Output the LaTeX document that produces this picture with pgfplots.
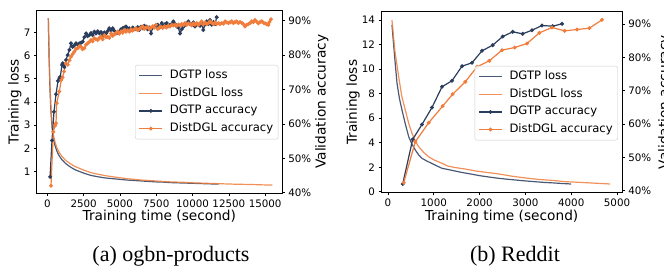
\documentclass[border=0pt]{standalone}
\usepackage{fontspec}
\setmainfont{DejaVu Sans}
\newfontfamily\capfont{Liberation Serif}
\usepackage{pgfplots}
\pgfplotsset{compat=1.18}
\definecolor{dgtp}{RGB}{43,61,92}
\definecolor{ddgl}{RGB}{240,125,60}
\pgfplotsset{
  base/.style={
    scale only axis,
    /pgf/number format/assume math mode=true,
    /pgf/number format/1000 sep={},
    scaled ticks=false,
    tick align=outside,
    major tick length=2.8bp,
    every tick/.style={black, line width=0.6bp},
    ticklabel style={font=\fontsize{10.3bp}{12bp}\selectfont},
    label style={font=\fontsize{13.7bp}{16bp}\selectfont},
    axis line style={line width=0.8bp},
    legend cell align=left,
    legend image code/.code={\draw[mark repeat=2,mark phase=2,##1] plot coordinates {(0bp,0bp) (11.5bp,0bp) (23bp,0bp)};},
  },
  lossd/.style={dgtp, line width=1.2bp, opacity=0.85},
  losso/.style={ddgl, line width=1.2bp, opacity=0.85},
  accd/.style={dgtp, line width=1.2bp, mark=*, mark size=1.3bp},
  acco/.style={ddgl, line width=1.2bp, mark=*, mark size=1.3bp},
  leg/.style={draw=black!20, rounded corners=2bp, fill=white, fill opacity=0.8, text opacity=1,
    font=\fontsize{11.6bp}{13bp}\selectfont, inner xsep=3.5bp, inner ysep=3.3bp, row sep=3.1bp,
    nodes={inner sep=1.5bp, text height=8.8bp, text depth=2.7bp},
    /tikz/every odd column/.append style={column sep=5.5bp}},
}
\begin{document}
\begin{tikzpicture}
\useasboundingbox (0,0) rectangle (664bp,270bp);
% ---------------- left: ogbn-products ----------------
\begin{axis}[base, at={(36.7bp,76.7bp)}, anchor=south west, width=245.3bp, height=183.3bp,
  xmin=-730, xmax=16160, ymin=0.07, ymax=7.96,
  xtick={0,2500,5000,7500,10000,12500,15000},
  ytick={1,2,3,4,5,6,7},
  xtick pos=bottom, ytick pos=left,
  xlabel={Training time (second)}, ylabel={Training loss},
  xlabel style={at={(axis description cs:0.5,0)}, anchor=north, inner sep=0pt, yshift=-16.8bp},
  ylabel style={at={(axis description cs:-0.0611,0.5)}, anchor=south, inner sep=0pt},
]
\addplot[lossd] coordinates {
(70,7.6) (120,6.0) (180,4.6) (250,3.6) (330,2.9) (420,2.45) (520,2.15) (650,1.9) (800,1.7)
(1000,1.52) (1250,1.36) (1500,1.24) (1750,1.14) (2000,1.06) (2500,0.94) (3000,0.84) (3500,0.78)
(4000,0.73) (4500,0.70) (5000,0.67) (5500,0.64) (6000,0.62) (6500,0.60) (7000,0.58) (7500,0.56)
(8000,0.55) (8500,0.53) (9000,0.52) (9500,0.51) (10000,0.50) (10500,0.49) (11000,0.48) (11500,0.47) (11800,0.47)};
\addplot[losso] coordinates {
(70,7.6) (120,6.2) (180,4.8) (250,3.8) (330,3.05) (420,2.6) (520,2.3) (650,2.05) (800,1.85)
(1000,1.66) (1250,1.5) (1500,1.38) (1750,1.28) (2000,1.2) (2500,1.07) (3000,0.96) (3500,0.89)
(4000,0.83) (4500,0.78) (5000,0.74) (5500,0.70) (6000,0.67) (6500,0.64) (7000,0.62) (7500,0.60)
(8000,0.58) (8500,0.56) (9000,0.55) (9500,0.54) (10000,0.52) (11000,0.50) (12000,0.48) (13000,0.46)
(14000,0.45) (15000,0.43) (15500,0.43)};
\end{axis}
\begin{axis}[base, at={(36.7bp,76.7bp)}, anchor=south west, width=245.3bp, height=183.3bp,
  xmin=-730, xmax=16160, ymin=39.83, ymax=93.1,
  axis x line=none, axis y line*=right,
  ytick={40,50,60,70,80,90}, yticklabels={40\%,50\%,60\%,70\%,80\%,90\%},
  ylabel={Validation accuracy},
  ylabel style={at={(axis description cs:1.1345,0.5)}, anchor=north, inner sep=0pt},
  legend style={leg, at={(axis description cs:0.985,0.70)}, anchor=north east},
]
\addlegendimage{lossd}\addlegendentry{DGTP loss}
\addlegendimage{losso}\addlegendentry{DistDGL loss}
\addplot[accd] coordinates {
(190,44.6) (324,55.2) (460,63.5) (599,68.6) (737,72.5) (827,73.3) (895,73.7) (1012,77.1) (1060,77.6)
(1171,76.5) (1288,78.6) (1405,80.0) (1520,81.5) (1632,83.4) (1749,82.4) (1860,82.8) (1977,83.4)
(2090,83.0) (2204,83.4) (2320,83.6) (2438,83.9) (2550,85.2) (2665,86.3) (2780,85.5) (2893,85.8)
(3010,86.4) (3127,85.8) (3240,86.8) (3354,86.3) (3470,86.9) (3581,86.3) (3700,86.7) (3815,85.8)
(3930,86.6) (4043,86.3) (4160,87.0) (4270,87.8) (4390,87.2) (4504,87.8) (4620,87.0) (4731,86.3)
(4850,86.5) (4959,86.8) (5080,87.5) (5193,87.8) (5300,88.0) (5420,88.3) (5530,87.6) (5647,87.8)
(5760,87.2) (5880,88.0) (6000,87.6) (6109,87.5) (6220,88.1) (6340,87.3) (6450,88.2) (6570,87.8)
(6680,88.5) (6797,88.3) (6910,87.5) (7020,88.0) (7141,86.3) (7250,87.9) (7370,88.3) (7490,88.5)
(7603,88.8) (7740,88.0) (7879,89.3) (8000,88.5) (8110,89.0) (8223,89.3) (8340,88.4) (8450,88.8)
(8567,89.0) (8678,89.8) (8790,89.0) (8907,88.3) (9020,88.0) (9139,86.3) (9250,87.5) (9370,88.2)
(9487,88.8) (9600,89.0) (9711,89.8) (9830,89.0) (9940,88.8) (10060,89.5) (10170,88.3) (10290,89.0)
(10400,88.8) (10520,88.5) (10630,89.3) (10740,87.3) (10860,88.9) (10975,89.8) (11090,89.0)
(11200,90.2) (11320,88.8) (11440,89.6) (11550,89.0) (11660,91.0)};
\addlegendentry{DGTP accuracy}
\addplot[acco] coordinates {
(255,42.0) (413,57.7) (530,59.5) (599,60.2) (647,66.0) (826,69.4) (964,72.8) (1050,73.5) (1150,75.2)
(1288,77.6) (1405,77.2) (1520,78.5) (1632,79.5) (1745,80.3) (1860,81.0) (1977,81.8) (2094,82.0)
(2210,82.6) (2321,82.4) (2430,81.7) (2548,82.0) (2660,83.0) (2782,83.4) (2890,83.8) (3010,84.4)
(3120,84.0) (3237,84.9) (3350,84.6) (3471,84.4) (3580,85.0) (3698,85.3) (3810,84.6) (3926,85.8)
(4040,85.2) (4160,85.3) (4270,85.0) (4387,86.3) (4500,85.6) (4620,86.0) (4730,86.4) (4848,86.8)
(4960,86.2) (5080,86.9) (5190,86.5) (5303,87.3) (5420,86.8) (5530,87.2) (5650,86.8) (5760,87.5)
(5880,87.1) (6000,87.5) (6110,87.8) (6230,87.2) (6340,87.6) (6450,88.0) (6570,88.3) (6680,87.6)
(6800,88.0) (6910,88.2) (7030,87.6) (7140,88.0) (7260,88.4) (7370,88.0) (7486,88.8) (7600,87.6)
(7720,88.0) (7840,88.2) (7950,87.9) (8070,88.4) (8200,88.0) (8330,88.5) (8450,88.3) (8567,88.8)
(8680,88.6) (8800,88.8) (8910,88.5) (9030,88.9) (9150,88.6) (9260,89.0) (9370,88.7) (9483,89.3)
(9600,88.8) (9710,89.2) (9830,89.0) (9940,88.6) (10060,89.2) (10170,88.8) (10290,89.3) (10400,88.7)
(10520,89.3) (10630,89.8) (10740,88.9) (10860,89.5) (10975,89.0) (11090,89.3) (11200,89.8)
(11320,89.4) (11440,89.0) (11550,89.5) (11660,89.0) (11776,89.3) (11890,89.0) (12010,89.3)
(12130,89.1) (12240,89.8) (12350,89.5) (12470,89.3) (12580,89.5) (12700,89.8) (12810,89.3)
(12930,89.6) (13040,89.8) (13160,89.3) (13270,89.6) (13390,89.4) (13500,89.0) (13615,88.3)
(13730,88.8) (13850,89.0) (13960,89.3) (14078,89.8) (14190,89.6) (14305,90.2) (14420,89.7)
(14530,89.2) (14650,89.6) (14765,89.8) (14880,89.4) (15000,89.2) (15110,89.0) (15220,88.8)
(15300,89.6) (15405,90.4)};
\addlegendentry{DistDGL accuracy}
\end{axis}
% ---------------- right: Reddit ----------------
\begin{axis}[base, at={(381.3bp,77.3bp)}, anchor=south west, width=240.7bp, height=181bp,
  xmin=-146, xmax=5109, ymin=-0.08, ymax=14.68,
  xtick={0,1000,2000,3000,4000,5000},
  ytick={0,2,4,6,8,10,12,14},
  xtick pos=bottom, ytick pos=left,
  xlabel={Training time (second)}, ylabel={Training loss},
  xlabel style={at={(axis description cs:0.5,0)}, anchor=north, inner sep=0pt, yshift=-16.8bp},
  ylabel style={at={(axis description cs:-0.0885,0.5)}, anchor=south, inner sep=0pt},
]
\addplot[lossd] coordinates {
(87,13.6) (150,10.8) (197,8.84) (250,7.6) (306,6.66) (380,5.5) (452,4.49) (520,3.9) (597,3.4)
(670,3.0) (742,2.72) (850,2.5) (961,2.3) (1070,2.1) (1179,1.91) (1300,1.82) (1450,1.7) (1600,1.58)
(1800,1.45) (2000,1.31) (2200,1.2) (2400,1.1) (2600,1.02) (2800,0.95) (3000,0.88) (3200,0.82)
(3400,0.76) (3600,0.72) (3800,0.67) (4000,0.63)};
\addplot[losso] coordinates {
(87,14.0) (150,11.5) (233,9.4) (300,7.8) (378,6.66) (450,5.6) (524,4.76) (600,4.1) (670,3.67)
(780,3.2) (888,2.85) (1000,2.6) (1179,2.32) (1300,2.1) (1450,1.98) (1688,1.85) (1900,1.7)
(2100,1.6) (2417,1.45) (2700,1.27) (3000,1.12) (3300,1.0) (3600,0.92) (3871,0.82) (4200,0.76)
(4600,0.68) (4850,0.63)};
\end{axis}
\begin{axis}[base, at={(381.3bp,77.3bp)}, anchor=south west, width=240.7bp, height=181bp,
  xmin=-146, xmax=5109, ymin=39.4, ymax=93.75,
  axis x line=none, axis y line*=right,
  ytick={40,50,60,70,80,90}, yticklabels={40\%,50\%,60\%,70\%,80\%,90\%},
  ylabel={Validation accuracy},
  ylabel style={at={(axis description cs:1.1496,0.5)}, anchor=north, inner sep=0pt},
  legend style={leg, at={(axis description cs:0.983,0.70)}, anchor=north east},
]
\addlegendimage{lossd}\addlegendentry{DGTP loss}
\addlegendimage{losso}\addlegendentry{DistDGL loss}
\addplot[accd] coordinates {
(321,42.0) (539,55.4) (742,59.9) (961,65.0) (1179,71.2) (1397,73.0) (1616,77.4) (1834,78.4)
(2052,82.0) (2286,83.7) (2504,86.3) (2723,87.7) (2941,87.1) (3144,88.2) (3362,89.6) (3596,89.4) (3799,90.1)};
\addlegendentry{DGTP accuracy}
\addplot[acco] coordinates {
(343,42.4) (596,54.7) (888,60.4) (1194,65.4) (1413,69.0) (1688,72.7) (1943,77.2) (2212,79.0)
(2489,82.2) (2766,83.0) (3035,84.2) (3304,87.4) (3581,89.0) (3858,88.0) (4127,88.4) (4396,88.8) (4672,91.3)};
\addlegendentry{DistDGL accuracy}
\end{axis}
\node[font=\capfont\fontsize{22bp}{26bp}\selectfont, anchor=base] at (171bp,9bp) {(a) ogbn-products};
\node[font=\capfont\fontsize{22bp}{26bp}\selectfont, anchor=base] at (515bp,9bp) {(b) Reddit};
\end{tikzpicture}
\end{document}
